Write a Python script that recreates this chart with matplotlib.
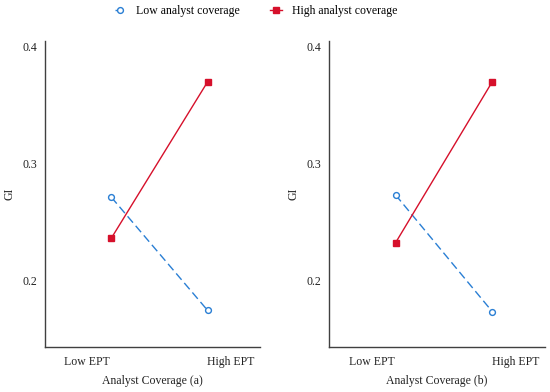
import matplotlib
matplotlib.use('Agg')
import matplotlib.pyplot as plt
import numpy as np

# data
categories = ['Low EPT', 'High EPT']
low_cov_a = [0.271, 0.174]
high_cov_a = [0.236, 0.370]
low_cov_b = [0.273, 0.173]
high_cov_b = [0.232, 0.370]
panel_labels = ['Analyst Coverage (a)', 'Analyst Coverage (b)']
yticks = [0.2, 0.3, 0.4]

blue = '#2a7fd4'
red = '#d6102b'
spine_col = '#404040'

plt.rcParams['font.family'] = ['Liberation Serif', 'DejaVu Serif']
plt.rcParams['font.size'] = 8.5

fig = plt.figure(figsize=(5.5, 3.92), dpi=100)
ax1 = fig.add_axes([0.0818, 0.1148, 0.391, 0.7806])
ax2 = fig.add_axes([0.598, 0.1148, 0.3927, 0.7806])

x = np.arange(len(categories))
series = [(ax1, low_cov_a, high_cov_a, panel_labels[0]),
          (ax2, low_cov_b, high_cov_b, panel_labels[1])]

for ax, low, high, lab in series:
    ax.plot(x, low, color=blue, lw=1, dashes=(6, 3), marker='o', ms=4.2,
            mfc='white', mec=blue, mew=1, label='Low analyst coverage')
    ax.plot(x, high, color=red, lw=1, marker='s', ms=4.5,
            mfc=red, mec=red, label='High analyst coverage')
    ax.set_xlim(-0.69, 1.545)
    ax.set_ylim(0.1426, 0.405)
    ax.set_yticks(yticks)
    ax.set_yticklabels(['%.1f' % v for v in yticks])
    ax.set_xticks([-0.25, 1.245])
    ax.set_xticklabels(categories)
    ax.tick_params(length=0, pad=5.5, colors='#222222')
    ax.tick_params(axis='x', pad=6.5)
    ax.set_xlabel(lab, labelpad=5, color='#222222')
    ax.set_ylabel('GI', labelpad=5, color='#222222')
    for s in ['top', 'right']:
        ax.spines[s].set_visible(False)
    for s in ['left', 'bottom']:
        ax.spines[s].set_color(spine_col)
        ax.spines[s].set_linewidth(1)

h, l = ax1.get_legend_handles_labels()
fig.legend(h, l, loc='upper center', bbox_to_anchor=(0.465, 1.015), ncol=2,
           frameon=False, handlelength=1.0, columnspacing=2.6, handletextpad=0.8)

plt.savefig('out.png', dpi=100)
